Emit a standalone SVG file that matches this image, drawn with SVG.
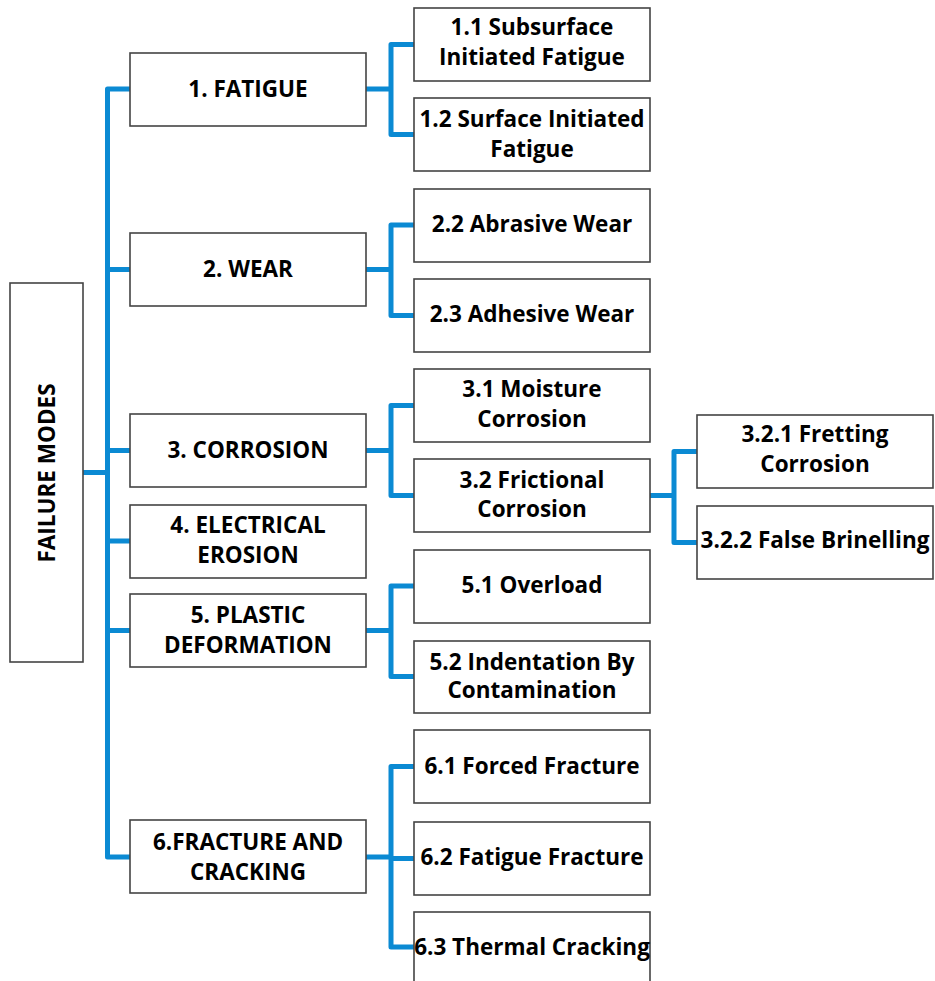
<svg xmlns="http://www.w3.org/2000/svg" width="935" height="981" viewBox="0 0 935 981">
<style>
.box{fill:#fff;stroke:#444;stroke-width:1.6}
.t{font-family:"Open Sans","Liberation Sans",sans-serif;font-weight:700;font-size:22.5px;fill:#000;text-anchor:middle}
.c{fill:none;stroke:#0B8AD3;stroke-width:5;stroke-linejoin:round;stroke-linecap:butt}
</style>
<rect width="935" height="981" fill="#fff"/>
<g id="connectors">
<path class="c" d="M83 472.5H107.5M130 89H107.5V857H130M107.5 269.5H130M107.5 450.5H130M107.5 541H130M107.5 630.5H130"/>
<path class="c" d="M366 89H391M414 44.5H391V134.5H414"/>
<path class="c" d="M366 269.5H391M414 225H391V315.5H414"/>
<path class="c" d="M366 450.5H391M414 405.5H391V495.5H414"/>
<path class="c" d="M366 630.5H391M414 586H391V676.5H414"/>
<path class="c" d="M366 857H391M414 766.5H391V947H414M391 858.5H414"/>
<path class="c" d="M650 495.5H674M697 451.5H674V542.5H697"/>
</g>
<g id="root"><rect class="box" x="10" y="283" width="73" height="379"/><text class="t" transform="translate(55,473) rotate(-90)" x="0" y="0">FAILURE MODES</text></g>
<g id="n1"><rect class="box" x="130" y="53" width="236" height="73"/><text class="t" x="248" y="97">1. FATIGUE</text></g>
<g id="n2"><rect class="box" x="130" y="233" width="236" height="73"/><text class="t" x="248" y="277">2. WEAR</text></g>
<g id="n3"><rect class="box" x="130" y="414" width="236" height="73"/><text class="t" x="248" y="458">3. CORROSION</text></g>
<g id="n4"><rect class="box" x="130" y="505" width="236" height="73"/><text class="t" x="248" y="533">4. ELECTRICAL</text><text class="t" x="248" y="563">EROSION</text></g>
<g id="n5"><rect class="box" x="130" y="594" width="236" height="73"/><text class="t" x="248" y="623">5. PLASTIC</text><text class="t" x="248" y="653">DEFORMATION</text></g>
<g id="n6"><rect class="box" x="130" y="820" width="236" height="73"/><text class="t" x="248" y="850">6.FRACTURE AND</text><text class="t" x="248" y="880">CRACKING</text></g>
<g id="n11"><rect class="box" x="414" y="8" width="236" height="73"/><text class="t" x="532" y="35">1.1 Subsurface</text><text class="t" x="532" y="65">Initiated Fatigue</text></g>
<g id="n12"><rect class="box" x="414" y="98" width="236" height="73"/><text class="t" x="532" y="127">1.2 Surface Initiated</text><text class="t" x="532" y="157">Fatigue</text></g>
<g id="n22"><rect class="box" x="414" y="189" width="236" height="73"/><text class="t" x="532" y="232">2.2 Abrasive Wear</text></g>
<g id="n23"><rect class="box" x="414" y="279" width="236" height="73"/><text class="t" x="532" y="322">2.3 Adhesive Wear</text></g>
<g id="n31"><rect class="box" x="414" y="369" width="236" height="73"/><text class="t" x="532" y="397">3.1 Moisture</text><text class="t" x="532" y="427">Corrosion</text></g>
<g id="n32"><rect class="box" x="414" y="459" width="236" height="73"/><text class="t" x="532" y="488">3.2 Frictional</text><text class="t" x="532" y="517">Corrosion</text></g>
<g id="n321"><rect class="box" x="697" y="415" width="236" height="73"/><text class="t" x="815" y="442">3.2.1 Fretting</text><text class="t" x="815" y="472">Corrosion</text></g>
<g id="n322"><rect class="box" x="697" y="506" width="236" height="73"/><text class="t" x="815" y="548">3.2.2 False Brinelling</text></g>
<g id="n51"><rect class="box" x="414" y="550" width="236" height="73"/><text class="t" x="532" y="593">5.1 Overload</text></g>
<g id="n52"><rect class="box" x="414" y="641" width="236" height="72"/><text class="t" x="532" y="670">5.2 Indentation By</text><text class="t" x="532" y="698">Contamination</text></g>
<g id="n61"><rect class="box" x="414" y="730" width="236" height="73"/><text class="t" x="532" y="774">6.1 Forced Fracture</text></g>
<g id="n62"><rect class="box" x="414" y="822" width="236" height="73"/><text class="t" x="532" y="865">6.2 Fatigue Fracture</text></g>
<g id="n63"><rect class="box" x="414" y="912" width="236" height="75"/><text class="t" x="532" y="955">6.3 Thermal Cracking</text></g>
</svg>
